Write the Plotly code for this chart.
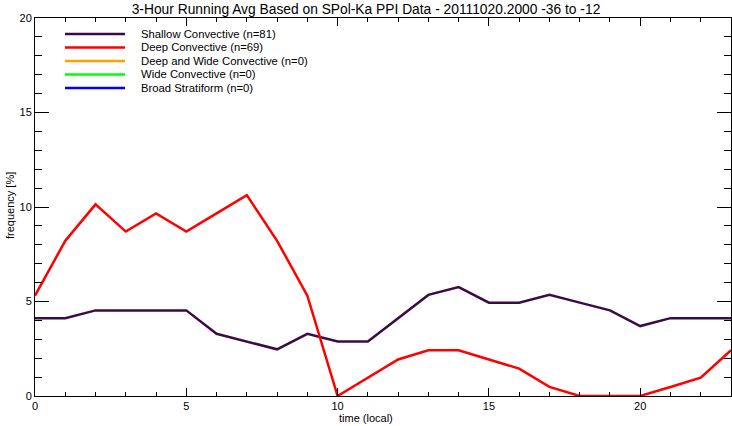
import plotly.graph_objects as go

hours = list(range(24))
shallow = [4.12, 4.12, 4.53, 4.53, 4.53, 4.53, 3.29, 2.88, 2.47, 3.29, 2.88, 2.88,
           4.12, 5.35, 5.76, 4.94, 4.94, 5.35, 4.94, 4.53, 3.70, 4.12, 4.12, 4.12]
deep = [5.31, 8.21, 10.14, 8.70, 9.66, 8.70, 9.66, 10.63, 8.21, 5.31, 0.0, 0.97,
        1.93, 2.42, 2.42, 1.93, 1.45, 0.48, 0.0, 0.0, 0.0, 0.48, 0.97, 2.42]

series_names = ["Shallow Convective (n=81)", "Deep Convective (n=69)",
                "Deep and Wide Convective (n=0)", "Wide Convective (n=0)",
                "Broad Stratiform (n=0)"]
series_colors = ["rgb(60,10,70)", "rgb(255,0,0)", "rgb(255,160,0)",
                 "rgb(0,255,0)", "rgb(0,0,255)"]
title = "3-Hour Running Avg Based on SPol-Ka PPI Data - 20111020.2000 -36 to -12"

W, H = 732, 426
L, R, T, B = 35, 1, 18, 30
pw, ph = W - L - R, H - T - B

fig = go.Figure()
fig.add_trace(go.Scatter(x=hours, y=shallow, mode="lines",
                         line=dict(color=series_colors[0], width=2.5),
                         cliponaxis=False, showlegend=False))
fig.add_trace(go.Scatter(x=hours, y=deep, mode="lines",
                         line=dict(color=series_colors[1], width=2.5),
                         cliponaxis=False, showlegend=False))

# custom legend (IDL style)
leg_rows_px = [34, 47.5, 61, 74.5, 88]
for name, col, py in zip(series_names, series_colors, leg_rows_px):
    yp = (H - B - py) / ph
    fig.add_shape(type="line", xref="paper", yref="paper",
                  x0=(65 - L) / pw, x1=(125 - L) / pw, y0=yp, y1=yp,
                  line=dict(color=col, width=2.5))
    fig.add_annotation(xref="paper", yref="paper", x=(141 - L) / pw, y=yp,
                       text=name, showarrow=False, xanchor="left", yanchor="middle",
                       xshift=-2, font=dict(size=11.3, color="black"))

# axis titles
fig.add_annotation(xref="paper", yref="paper", x=(366 - L) / pw, y=(H - B - 418) / ph,
                   text="time (local)", showarrow=False, xanchor="center", yanchor="middle",
                   font=dict(size=11, color="black"))
fig.add_annotation(xref="paper", yref="paper", x=(10 - L) / pw, y=(H - B - 206) / ph,
                   text="frequency [%]", showarrow=False, textangle=-90,
                   xanchor="center", yanchor="middle",
                   font=dict(size=11, color="black"))

axis_common = dict(showline=True, linecolor="black", linewidth=1, mirror="allticks",
                   ticks="inside", tickcolor="black", tickwidth=1,
                   showgrid=False, zeroline=False, automargin=False,
                   tickfont=dict(size=11, color="black"))

fig.update_xaxes(range=[0, 23], tick0=0, dtick=5, ticklen=8,
                 minor=dict(ticks="inside", dtick=1, ticklen=4, tickcolor="black", showgrid=False),
                 **axis_common)
fig.update_yaxes(range=[0, 20], tick0=0, dtick=5, ticklen=14,
                 minor=dict(ticks="inside", dtick=1, ticklen=7, tickcolor="black", showgrid=False),
                 **axis_common)

fig.update_layout(
    width=W, height=H,
    margin=dict(l=L, r=R, t=T, b=B),
    paper_bgcolor="white", plot_bgcolor="white",
    font=dict(family="Liberation Sans, Arial, sans-serif", color="black"),
    title=dict(text=title, x=0.5, xanchor="center", y=1 - 9 / H, yanchor="middle",
               automargin=False, font=dict(size=13.8, color="black")),
)

fig.write_html("out.html", config={"displayModeBar": False},
               post_script="document.body.style.margin='0';document.body.style.overflow='hidden';")
